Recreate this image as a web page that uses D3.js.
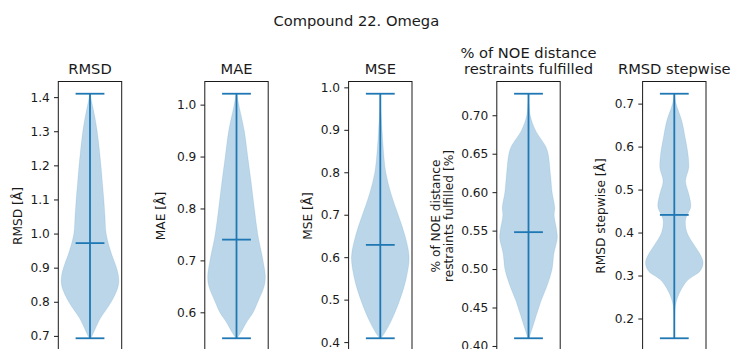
<!DOCTYPE html>
<html>
<head>
<meta charset="utf-8">
<script src="https://cdn.jsdelivr.net/npm/d3@7"></script>
<style>
  html, body { margin: 0; padding: 0; background: #fff; }
  svg { display: block; font-family: "DejaVu Sans", sans-serif; }
</style>
</head>
<body>
<svg id="chart" width="732" height="349"></svg>
<script>
// Panel titles, axis labels and tick labels
const panelTitles = [["RMSD"], ["MAE"], ["MSE"], ["% of NOE distance", "restraints fulfilled"], ["RMSD stepwise"]];
const axisLabels = [["RMSD [Å]"], ["MAE [Å]"], ["MSE [Å]"], ["% of NOE distance", "restraints fulfilled [%]"], ["RMSD stepwise [Å]"]];
const tickValues = [
  [0.7, 0.8, 0.9, 1.0, 1.1, 1.2, 1.3, 1.4],
  [0.6, 0.7, 0.8, 0.9, 1.0],
  [0.4, 0.5, 0.6, 0.7, 0.8, 0.9, 1.0],
  [0.40, 0.45, 0.50, 0.55, 0.60, 0.65, 0.70],
  [0.2, 0.3, 0.4, 0.5, 0.6, 0.7]
];
const tickDecimals = [1, 1, 1, 2, 1];

// Summary statistics per metric
const minValues = [0.693, 0.550, 0.409, 0.410, 0.154];
const maxValues = [1.410, 1.021, 0.985, 0.728, 0.723];
const meanValues = [0.972, 0.740, 0.629, 0.548, 0.441];

// Density profiles (value level, relative density 0..1)
const rmsdLevels   = [0.693, 0.70, 0.72, 0.75, 0.80, 0.84, 0.86, 0.88, 0.90, 0.95, 1.00, 1.05, 1.10, 1.15, 1.20, 1.25, 1.30, 1.35, 1.39, 1.41];
const rmsdDensity  = [0.02, 0.07, 0.18, 0.35, 0.74, 0.96, 1.00, 0.98, 0.92, 0.71, 0.56, 0.52, 0.48, 0.43, 0.38, 0.32, 0.25, 0.15, 0.05, 0.01];
const maeLevels    = [0.55, 0.56, 0.58, 0.60, 0.62, 0.65, 0.67, 0.70, 0.75, 0.80, 0.85, 0.90, 0.95, 1.00, 1.021];
const maeDensity   = [0.02, 0.14, 0.34, 0.58, 0.74, 0.96, 1.00, 0.92, 0.74, 0.62, 0.51, 0.39, 0.27, 0.08, 0.01];
const mseLevels    = [0.409, 0.42, 0.45, 0.50, 0.55, 0.60, 0.65, 0.70, 0.75, 0.80, 0.85, 0.90, 0.95, 0.985];
const mseDensity   = [0.02, 0.14, 0.38, 0.68, 0.90, 1.00, 0.86, 0.62, 0.37, 0.19, 0.11, 0.06, 0.02, 0.01];
const noeLevels    = [0.410, 0.43, 0.45, 0.46, 0.48, 0.50, 0.52, 0.54, 0.55, 0.57, 0.58, 0.60, 0.62, 0.65, 0.66, 0.68, 0.70, 0.728];
const noeDensity   = [0.02, 0.19, 0.36, 0.45, 0.66, 0.82, 0.88, 1.00, 0.98, 0.89, 0.91, 0.82, 0.77, 0.68, 0.59, 0.25, 0.06, 0.01];
const stepLevels   = [0.154, 0.20, 0.23, 0.25, 0.27, 0.29, 0.31, 0.33, 0.35, 0.37, 0.40, 0.43, 0.46, 0.49, 0.52, 0.55, 0.58, 0.62, 0.66, 0.70, 0.723];
const stepDensity  = [0.01, 0.01, 0.04, 0.12, 0.26, 0.48, 0.89, 1.00, 0.89, 0.70, 0.44, 0.39, 0.57, 0.50, 0.39, 0.50, 0.48, 0.38, 0.26, 0.06, 0.01];

const levelSets = [rmsdLevels, maeLevels, mseLevels, noeLevels, stepLevels];
const densitySets = [rmsdDensity, maeDensity, mseDensity, noeDensity, stepDensity];

const suptitle = "Compound 22. Omega";

// Layout
const svg = d3.select("#chart");
const panelLefts = [58.3, 204.8, 348.6, 496.8, 642.6];
const panelWidth = 63.4;
const plotTop = 81.5, plotBottom = 350.5;
const labelCenters = [[17.3], [160.7], [308], [435.7, 448.6], [600.7]];
const C0 = "#1f77b4";
const textColor = "#1a1a1a";

svg.append("text")
  .attr("x", 356.3).attr("y", 25.5)
  .attr("text-anchor", "middle")
  .attr("font-size", "14.7px")
  .attr("fill", textColor)
  .text(suptitle);

panelTitles.forEach((title, i) => {
  const left = panelLefts[i];
  const g = svg.append("g");

  // matplotlib-style autoscale: 5% margin around the data extent
  const span = maxValues[i] - minValues[i];
  const y = d3.scaleLinear()
    .domain([minValues[i] - 0.05 * span, maxValues[i] + 0.05 * span])
    .range([plotBottom, plotTop]);
  const x = d3.scaleLinear().domain([0.725, 1.275]).range([left, left + panelWidth]);

  const pts = levelSets[i].map((v, k) => ({ v, d: densitySets[i][k] }));

  // violin body
  const area = d3.area()
    .y(p => y(p.v))
    .x0(p => x(1 - 0.25 * p.d))
    .x1(p => x(1 + 0.25 * p.d))
    .curve(d3.curveCatmullRom.alpha(0.5));
  g.append("path")
    .datum(pts)
    .attr("d", area)
    .attr("fill", C0)
    .attr("fill-opacity", 0.3)
    .attr("stroke", C0)
    .attr("stroke-opacity", 0.15)
    .attr("stroke-width", 0.8);

  // extrema bar, caps and mean line
  const lineColor = C0, lw = 1.8;
  g.append("line")
    .attr("x1", x(1)).attr("x2", x(1))
    .attr("y1", y(minValues[i])).attr("y2", y(maxValues[i]))
    .attr("stroke", lineColor).attr("stroke-width", lw);
  [minValues[i], maxValues[i], meanValues[i]].forEach(v => {
    g.append("line")
      .attr("x1", x(0.875)).attr("x2", x(1.125))
      .attr("y1", y(v)).attr("y2", y(v))
      .attr("stroke", lineColor).attr("stroke-width", lw);
  });

  // left axis
  const fmt = d3.format("." + tickDecimals[i] + "f");
  const axis = d3.axisLeft(y)
    .tickValues(tickValues[i])
    .tickFormat(fmt)
    .tickSize(4.3)
    .tickPadding(4.2);
  const ag = g.append("g")
    .attr("transform", `translate(${left},0)`)
    .call(axis);
  ag.select(".domain").remove();
  ag.selectAll(".tick line").attr("stroke", textColor).attr("stroke-width", 1);
  ag.selectAll(".tick text")
    .attr("fill", textColor)
    .attr("font-size", "12.2px")
    .attr("font-family", "DejaVu Sans, sans-serif");

  // frame
  g.append("rect")
    .attr("x", left).attr("y", plotTop)
    .attr("width", panelWidth).attr("height", plotBottom - plotTop)
    .attr("fill", "none")
    .attr("stroke", textColor)
    .attr("stroke-width", 1);

  // title (one or two lines)
  const cx = left + panelWidth / 2;
  const nT = title.length;
  title.forEach((line, k) => {
    svg.append("text")
      .attr("x", cx)
      .attr("y", 74 - (nT - 1 - k) * 16.5)
      .attr("text-anchor", "middle")
      .attr("font-size", "14.7px")
      .attr("fill", textColor)
      .text(line);
  });

  // rotated axis label
  const yc = (plotTop + plotBottom) / 2;
  axisLabels[i].forEach((line, k) => {
    const lx = labelCenters[i][k];
    svg.append("text")
      .attr("transform", `translate(${lx},${yc}) rotate(-90)`)
      .attr("text-anchor", "middle")
      .attr("dy", "0.35em")
      .attr("font-size", "12.2px")
      .attr("fill", textColor)
      .text(line);
  });
});
</script>
</body>
</html>
